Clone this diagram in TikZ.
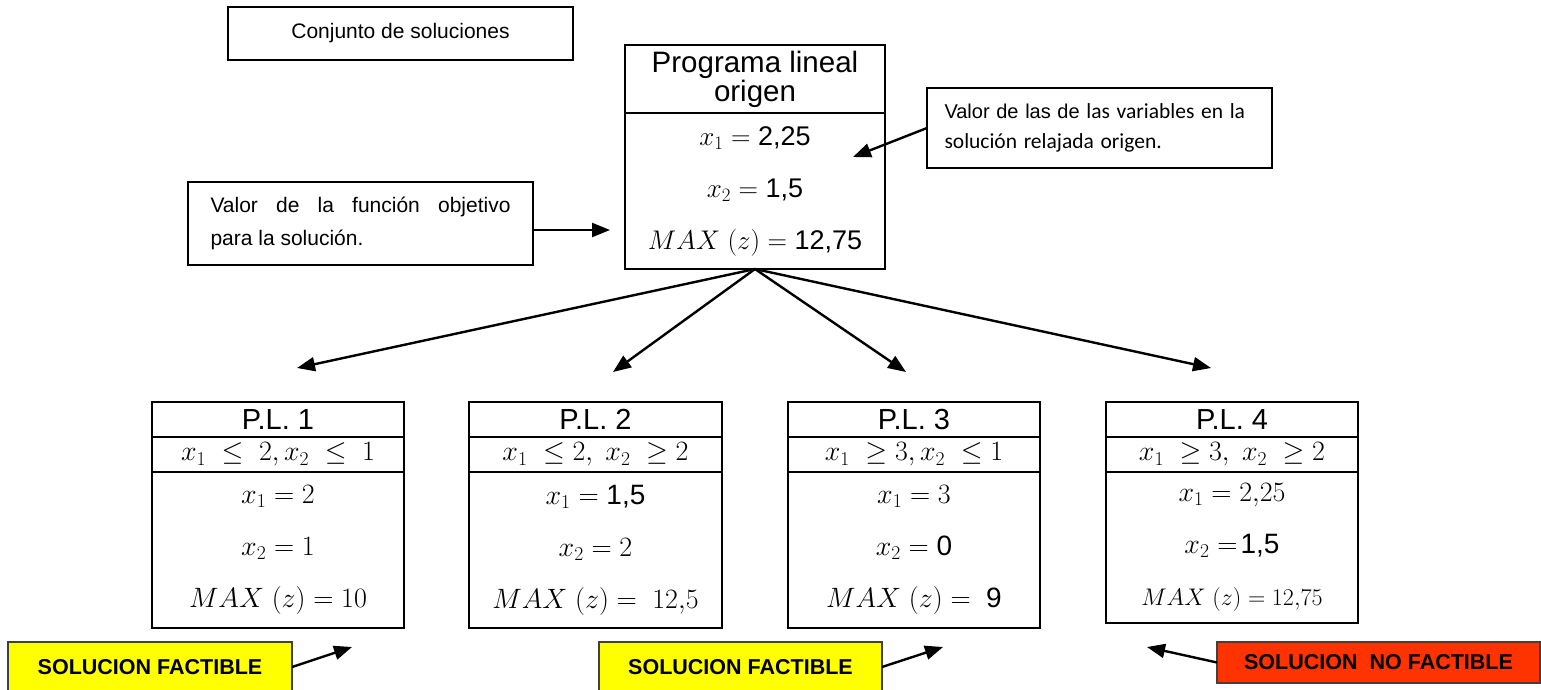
\RequirePackage{fix-cm}
\documentclass[tikz,border=0pt]{standalone}
\usepackage{fontspec}
\setmainfont{Liberation Sans}
\newfontfamily\calibri{Carlito}
\usetikzlibrary{positioning,arrows.meta}
\definecolor{tagyellow}{RGB}{255,255,0}
\definecolor{tagred}{RGB}{255,51,0}
\tikzset{
  cell/.style={draw, line width=2pt, inner sep=0pt, outer sep=0pt, minimum width=#1},
  note/.style={draw, line width=1.6pt, inner sep=0pt, outer sep=0pt, minimum width=345pt},
  tag/.style={draw=black!75, line width=1.2pt, fill=#1, inner sep=0pt, outer sep=0pt,
    font=\fontsize{21.5}{25}\selectfont\bfseries},
  tip/.style={-{Triangle[length=18pt,width=14pt]}, line width=2.4pt},
  big/.style={font=\fontsize{#1}{52}\selectfont, align=center},
  head/.style={font=\fontsize{28}{30}\selectfont}
}
\newcommand{\sd}[1]{\mbox{#1}}

\begin{document}
\begin{tikzpicture}[x=1pt, y=-1pt]
\useasboundingbox (0,0) rectangle (1541,689);

\node (set) [note, minimum height=53pt, font=\fontsize{21}{25}\selectfont] at (400.5,33.5) {Conjunto de soluciones};

\node (roott) [cell=260pt, minimum height=68pt, align=center, font=\fontsize{29.5}{29}\selectfont] at (755,79) {Programa lineal\\origen};
\node (rootb) [cell=260pt, minimum height=156pt, big=27, below=0pt of roott]
  {$x_1 = \sd{2,25}$\\$x_2 = \sd{1,5}$\\$MAX\ (z) = \sd{12,75}$};

\node (obj) [note, minimum height=83pt, align=left, font=\fontsize{21}{33}\selectfont] at (360.5,223.5)
  {\makebox[300pt][s]{Valor de la función objetivo}\\para la solución.};
\node (var) [note, minimum height=80pt, text width=310pt, align=left, font=\fontsize{20}{30}\selectfont] at (1099.5,128)
  {Valor de las de {\calibri\fontsize{21.5}{30}\selectfont las variables en la}\\{\calibri\fontsize{21.5}{30}\selectfont solución relajada origen.}};

\node (pl1t) [cell=252pt, minimum height=35pt, font=\fontsize{29}{30}\selectfont] at (278,419.5) {P.L. 1};
\node (pl1c) [cell=252pt, minimum height=35pt, head, below=0pt of pl1t] {$x_1\ \leq\ 2, x_2\ \leq\ 1$};
\node (pl1b) [cell=252pt, minimum height=156pt, big=28, below=0pt of pl1c]
  {$x_1 = 2$\\$x_2 = 1$\\$MAX\ (z) = 10$};

\node (pl2t) [cell=253pt, minimum height=35pt, font=\fontsize{29}{30}\selectfont] at (595.5,419.5) {P.L. 2};
\node (pl2c) [cell=253pt, minimum height=35pt, head, below=0pt of pl2t] {$x_1\ \leq 2,\ x_2\ \geq 2$};
\node (pl2b) [cell=253pt, minimum height=156pt, big=28, below=0pt of pl2c]
  {$x_1 = \sd{1,5}$\\$x_2 = 2$\\$MAX\ (z) = \ 12{,}5$};

\node (pl3t) [cell=252pt, minimum height=35pt, font=\fontsize{29}{30}\selectfont] at (914,419.5) {P.L. 3};
\node (pl3c) [cell=252pt, minimum height=35pt, head, below=0pt of pl3t] {$x_1\ \geq 3, x_2\ \leq 1$};
\node (pl3b) [cell=252pt, minimum height=156pt, big=28, below=0pt of pl3c]
  {$x_1 = 3$\\$x_2 = \sd{0}$\\$MAX\ (z) = \ \sd{9}$};

\node (pl4t) [cell=252pt, minimum height=35pt, font=\fontsize{29}{30}\selectfont] at (1232,419.5) {P.L. 4};
\node (pl4c) [cell=252pt, minimum height=35pt, head, below=0pt of pl4t] {$x_1\ \geq 3,\ x_2\ \geq 2$};
\node (pl4b) [cell=252pt, minimum height=151pt, big=28, below=0pt of pl4c]
  {$x_1 = 2{,}25$\\$x_2 = \!\sd{1,5}$\\{\fontsize{24}{25}\selectfont$MAX\ (z) = 12{,}75$}};

\node (ok1) [tag=tagyellow, minimum width=284pt, minimum height=50pt] at (150,667) {SOLUCION FACTIBLE};
\node (ok2) [tag=tagyellow, minimum width=283pt, minimum height=50pt] at (740.5,667) {SOLUCION FACTIBLE};
\node (bad) [tag=tagred, minimum width=323pt, minimum height=41pt] at (1378.5,662.5) {SOLUCION\ \ NO FACTIBLE};

\coordinate (e1) at (297,368);
\coordinate (e2) at (613,372);
\coordinate (e3) at (906,372);
\coordinate (e4) at (1211,368);
\coordinate (a1) at (610,230);
\coordinate (a2) at (853,157);
\coordinate (b1) at (352,647);
\coordinate (b2) at (943,647);
\coordinate (b3) at (1147,647);

\foreach \e in {e1,e2,e3,e4}
  \draw[tip] (rootb.south) -- (\e);
\draw[tip] (obj.east |- a1) -- (a1);
\draw[tip] (var.west) -- (a2);
\draw[tip] (ok1.east) -- (b1);
\draw[tip] (ok2.east) -- (b2);
\draw[tip] (bad.west) -- (b3);
\end{tikzpicture}
\end{document}
